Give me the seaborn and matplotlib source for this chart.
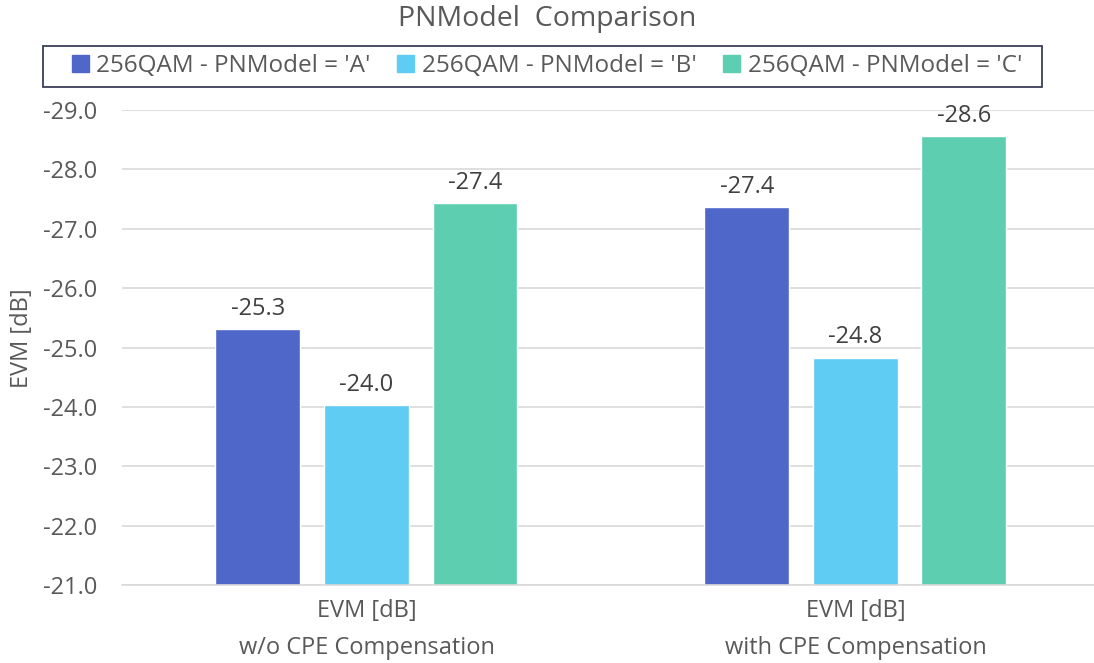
import pandas as pd
import numpy as np
import matplotlib
matplotlib.use("Agg")
import matplotlib.pyplot as plt
import seaborn as sns

cases = ["EVM [dB]\nw/o CPE Compensation", "EVM [dB]\nwith CPE Compensation"]
models = ["256QAM - PNModel = 'A'", "256QAM - PNModel = 'B'", "256QAM - PNModel = 'C'"]
evm_a = [-25.31, -27.36]
evm_b = [-24.03, -24.83]
evm_c = [-27.43, -28.56]
colors = ["#4E67C8", "#5ECCF3", "#5DCEAF"]

df = pd.DataFrame({
    "case": cases * 3,
    "model": [models[0]] * 2 + [models[1]] * 2 + [models[2]] * 2,
    "evm": evm_a + evm_b + evm_c,
})

sns.set_theme(style="white")
plt.rcParams['font.family'] = ['Open Sans', 'DejaVu Sans']

fig = plt.figure(figsize=(10.94, 6.63), dpi=100)
ax = fig.add_axes([0.1115, 0.1176, 0.8885, 0.7164])

sns.barplot(data=df, x="case", y="evm", hue="model", palette=colors,
            width=0.666, gap=0.217, saturation=1, errorbar=None, ax=ax)

# y axis runs from -21 (bottom) to -29 (top), bars grow upward
ax.set_ylim(-21, -29)
yt = np.arange(-21, -29.5, -1)
ax.set_yticks(yt)
ax.set_yticklabels([f"{v:.1f}" for v in yt])
ax.set_xlim(-0.5, 1.488)
ax.yaxis.grid(True, color="#d9d9d9", linewidth=1.2)
ax.set_axisbelow(True)
for s in ["top", "right", "left"]:
    ax.spines[s].set_visible(False)
ax.spines["bottom"].set_color("#d9d9d9")
ax.spines["bottom"].set_linewidth(1.2)

ax.tick_params(axis="y", length=0, pad=18, labelsize=17, labelcolor="#595959")
ax.tick_params(axis="x", length=0, pad=10, labelsize=17, labelcolor="#595959")
for t in ax.get_xticklabels():
    t.set_linespacing(1.75)

ax.set_xlabel("")
ax.set_ylabel("EVM [dB]", fontsize=17, color="#595959", labelpad=8)
ax.yaxis.set_label_coords(-0.09, 0.52)

for c in ax.containers:
    ax.bar_label(c, fmt="%.1f", padding=6, fontsize=17, color="#404040")

ax.get_legend().remove()
handles = [plt.Rectangle((0, 0), 1, 1, color=col) for col in colors]
fig.legend(handles, models, loc="center", bbox_to_anchor=(0.5, 0.8997),
           ncol=3, fontsize=17.5, frameon=False,
           handlelength=0.7, handleheight=0.7, columnspacing=1.1, handletextpad=0.3,
           labelcolor="#595959")
# legend frame box
fig.patches.append(plt.Rectangle((43 / 1094, 1 - 87 / 663), 999 / 1094, 41 / 663,
                                 transform=fig.transFigure, fill=False,
                                 edgecolor="#3a3f55", linewidth=1.3))

fig.text(0.5, 0.972, "PNModel  Comparison", ha="center", va="center",
         fontsize=20.5, color="#595959")

fig.savefig("out.png", dpi=100)
